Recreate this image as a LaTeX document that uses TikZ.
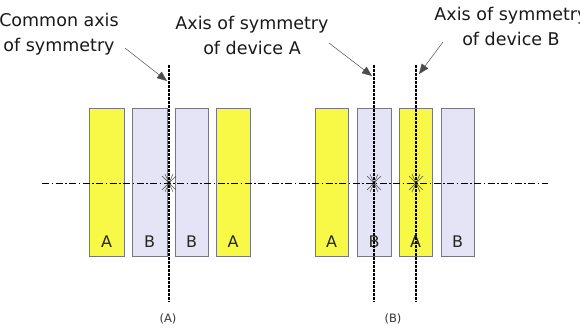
\documentclass[tikz,border=0pt]{standalone}
\usepackage{fontspec}
\setmainfont{DejaVu Sans}
\usetikzlibrary{arrows.meta}
\definecolor{ayel}{RGB}{248,248,70}
\definecolor{blav}{RGB}{228,228,246}
\definecolor{edge}{RGB}{120,120,130}
\tikzset{
  devA/.style={draw=edge, line width=0.8pt, fill=ayel},
  devB/.style={draw=edge, line width=0.8pt, fill=blav},
  dlabel/.style={font=\fontsize{16}{18}\selectfont, text=black!85},
  caption/.style={font=\fontsize{17.5}{25}\selectfont, align=center, anchor=base, inner sep=0pt, text=black!90},
  sub/.style={font=\fontsize{11.5}{13}\selectfont, text=black!80},
  vaxis/.style={line width=1.3pt, dash pattern=on 2.5pt off 1.5pt},
  haxis/.style={line width=1pt, dash pattern=on 7pt off 2.5pt on 1.5pt off 2.5pt},
  pointer/.style={line width=0.5pt, black!70, -{Triangle[length=10pt,width=8pt]}},
  star/.style={line width=0.5pt, black!70}
}
\begin{document}
\begin{tikzpicture}[x=1pt,y=-1pt]
\useasboundingbox (0,0) rectangle (580,330);
% left group (A)
\draw[devA] (89,108) rectangle (124,256);
\draw[devB] (132,108) rectangle (167,256);
\draw[devB] (175,108) rectangle (208,256);
\draw[devA] (216,108) rectangle (250,256);
\node[dlabel] (la1) at (106.5,242) {A};
\node[dlabel] (lb1) at (149.5,242) {B};
\node[dlabel] (lb2) at (191.5,242) {B};
\node[dlabel] (la2) at (233,242) {A};
% right group (B)
\draw[devA] (315,108) rectangle (348,256);
\draw[devB] (357,108) rectangle (391,256);
\draw[devA] (399,108) rectangle (432,256);
\draw[devB] (441,108) rectangle (474,256);
\node[dlabel] (ra1) at (331.5,242) {A};
\node[dlabel] (rb1) at (374,242) {B};
\node[dlabel] (ra2) at (415.5,242) {A};
\node[dlabel] (rb2) at (457.5,242) {B};
% axes
\coordinate (hl) at (42,183);
\coordinate (hr) at (548,183);
\draw[haxis] (hl) -- (hr);
\coordinate (ctop) at (169,65);
\coordinate (cbot) at (169,302);
\coordinate (atop) at (374,65);
\coordinate (abot) at (374,302);
\coordinate (btop) at (416,65);
\coordinate (bbot) at (416,302);
\draw[vaxis] (ctop) -- (cbot);
\draw[vaxis] (atop) -- (abot);
\draw[vaxis] (btop) -- (bbot);
% centroid stars
\foreach \cx in {169,374,416}{
  \draw[star] (\cx-7,176) -- (\cx+7,190);
  \draw[star] (\cx+7,176) -- (\cx-7,190);
  \draw[star] (\cx-4,174) -- (\cx+4,192);
  \draw[star] (\cx+4,174) -- (\cx-4,192);
  \fill[black] (\cx,183) circle (1.6);
}
% captions (base anchor = baseline of last line)
\node[caption] (cap1) at (59,51) {Common axis\\of symmetry};
\node[caption] (cap2) at (252,54) {Axis of symmetry\\of device A};
\node[caption] (cap3) at (511,45) {Axis of symmetry\\of device B};
\coordinate (p1s) at (125,48);
\coordinate (p1e) at (167,81);
\coordinate (p2s) at (329,43);
\coordinate (p2e) at (372,76);
\coordinate (p3s) at (443,42);
\coordinate (p3e) at (419,74);
\draw[pointer] (p1s) -- (p1e);
\draw[pointer] (p2s) -- (p2e);
\draw[pointer] (p3s) -- (p3e);
% sub captions
\node[sub] (subA) at (168,319) {(A)};
\node[sub] (subB) at (393,319) {(B)};
\end{tikzpicture}
\end{document}
